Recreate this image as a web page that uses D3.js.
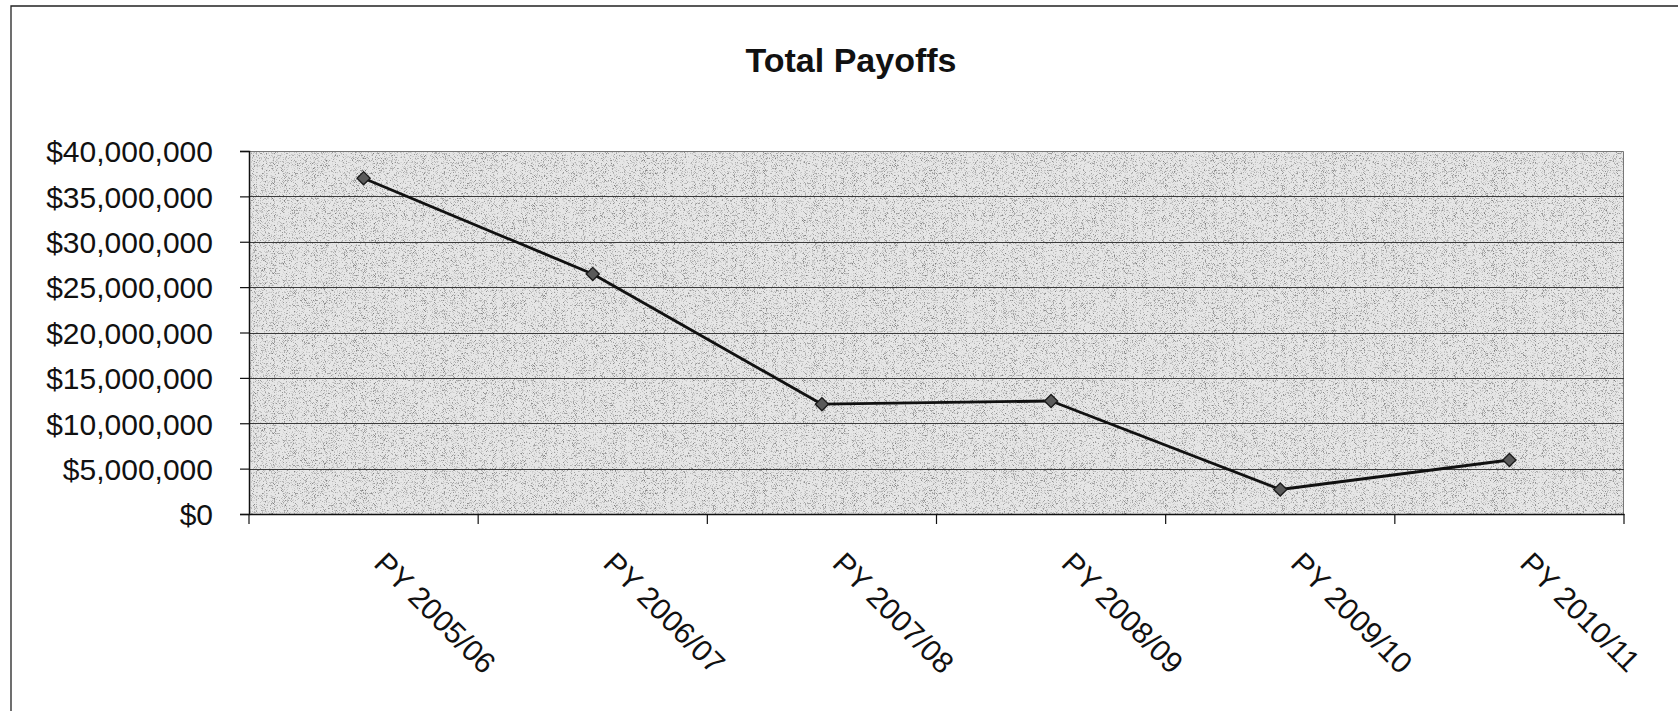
<!DOCTYPE html>
<html>
<head>
<meta charset="utf-8">
<title>Total Payoffs</title>
<script src="https://cdn.jsdelivr.net/npm/d3@7"></script>
<style>
  html, body { margin: 0; padding: 0; background: #fff; }
  svg { display: block; }
  text { font-family: Arial, "Liberation Sans", sans-serif; fill: #111; }
</style>
</head>
<body>
<svg id="chart" width="1678" height="711"></svg>
<script>
// Program years and total payoffs (US dollars)
const categories = ["PY 2005/06", "PY 2006/07", "PY 2007/08", "PY 2008/09", "PY 2009/10", "PY 2010/11"];
const payoffs = [37000000, 26450000, 12100000, 12450000, 2700000, 5950000];
const yTicks = [0, 5000000, 10000000, 15000000, 20000000, 25000000, 30000000, 35000000, 40000000];
const chartTitle = "Total Payoffs";

const svg = d3.select("#chart");
const W = 1678, H = 711;
const plot = { left: 249, right: 1624, top: 151, bottom: 514 };

// Outer frame of the chart object
svg.append("path")
  .attr("d", `M${W + 5},6 H11 V${H + 5}`)
  .attr("fill", "none")
  .attr("stroke", "#222")
  .attr("stroke-width", 1.3);

// Title
svg.append("text")
  .attr("x", 851)
  .attr("y", 72)
  .attr("text-anchor", "middle")
  .attr("font-size", 34)
  .attr("font-weight", "bold")
  .text(chartTitle);

const x = d3.scaleBand().domain(categories).range([plot.left, plot.right]).padding(0);
const y = d3.scaleLinear().domain([0, 40000000]).range([plot.bottom, plot.top]);

// Grainy grey plot-area fill
const defs = svg.append("defs");
const grain = defs.append("filter").attr("id", "grain")
  .attr("x", 0).attr("y", 0).attr("width", 1).attr("height", 1);
grain.append("feTurbulence")
  .attr("type", "fractalNoise").attr("baseFrequency", "0.9 1.6")
  .attr("numOctaves", 1).attr("seed", 7).attr("result", "noise");
grain.append("feColorMatrix").attr("in", "noise").attr("type", "matrix")
  .attr("values", "0 0 0 0 0  0 0 0 0 0  0 0 0 0 0  -4 0 0 0 1.9");

svg.append("rect")
  .attr("x", plot.left).attr("y", plot.top)
  .attr("width", plot.right - plot.left).attr("height", plot.bottom - plot.top)
  .attr("fill", "#e6e6e6");
svg.append("rect")
  .attr("x", plot.left).attr("y", plot.top)
  .attr("width", plot.right - plot.left).attr("height", plot.bottom - plot.top)
  .attr("fill", "#000")
  .attr("opacity", 0.45)
  .attr("filter", "url(#grain)");

// Plot-area edge (top and right)
svg.append("path")
  .attr("d", `M${plot.left},${plot.top + 0.5} H${plot.right - 0.5} V${plot.bottom}`)
  .attr("fill", "none").attr("stroke", "#777").attr("stroke-width", 1);

// Horizontal gridlines
svg.append("g")
  .selectAll("line")
  .data(yTicks.filter(v => v > 0 && v < 40000000))
  .join("line")
  .attr("x1", plot.left).attr("x2", plot.right)
  .attr("y1", d => Math.round(y(d)) + 0.5).attr("y2", d => Math.round(y(d)) + 0.5)
  .attr("stroke", "#3a3a3a").attr("stroke-width", 1.2);

// Y axis
const yAxis = svg.append("g")
  .attr("transform", `translate(${plot.left},0)`)
  .call(d3.axisLeft(y)
    .tickValues(yTicks)
    .tickSize(9)
    .tickPadding(27)
    .tickFormat(v => "$" + d3.format(",")(v)));
yAxis.select(".domain").attr("stroke", "#111").attr("stroke-width", 1.5);
yAxis.selectAll(".tick line").attr("stroke", "#111").attr("stroke-width", 1.2);
yAxis.selectAll(".tick text")
  .attr("font-size", 30)
  .attr("fill", "#111")
  .attr("font-family", "Arial, 'Liberation Sans', sans-serif")
  .attr("dy", "0.36em");

// X axis: category labels rotated, tick marks on category boundaries
const xAxis = svg.append("g")
  .attr("transform", `translate(0,${plot.bottom})`)
  .call(d3.axisBottom(x).tickSize(0).tickPadding(0));
xAxis.select(".domain").attr("stroke", "#111").attr("stroke-width", 1.5);
xAxis.selectAll(".tick text")
  .attr("font-size", 30)
  .attr("fill", "#111")
  .attr("font-family", "Arial, 'Liberation Sans', sans-serif")
  .attr("text-anchor", "start")
  .attr("y", 0).attr("dy", 0)
  .attr("transform", "translate(9,51) rotate(45)");

const boundaries = categories.map(c => x(c)).concat([x(categories[categories.length - 1]) + x.bandwidth()]);
xAxis.append("g")
  .selectAll("line")
  .data(boundaries)
  .join("line")
  .attr("x1", d => d).attr("x2", d => d)
  .attr("y1", 0).attr("y2", 10)
  .attr("stroke", "#111").attr("stroke-width", 1.2);

// Series line
const line = d3.line()
  .x((d, i) => x(categories[i]) + x.bandwidth() / 2)
  .y(d => y(d));
svg.append("path")
  .datum(payoffs)
  .attr("d", line)
  .attr("fill", "none")
  .attr("stroke", "#111")
  .attr("stroke-width", 2.8)
  .attr("stroke-linejoin", "round");

// Diamond markers
svg.append("g")
  .selectAll("path")
  .data(payoffs)
  .join("path")
  .attr("transform", (d, i) => `translate(${x(categories[i]) + x.bandwidth() / 2},${y(d)})`)
  .attr("d", d3.symbol(d3.symbolDiamond2, 110))
  .attr("fill", "#5a5a5a")
  .attr("stroke", "#1a1a1a")
  .attr("stroke-width", 1.3);
</script>
</body>
</html>
